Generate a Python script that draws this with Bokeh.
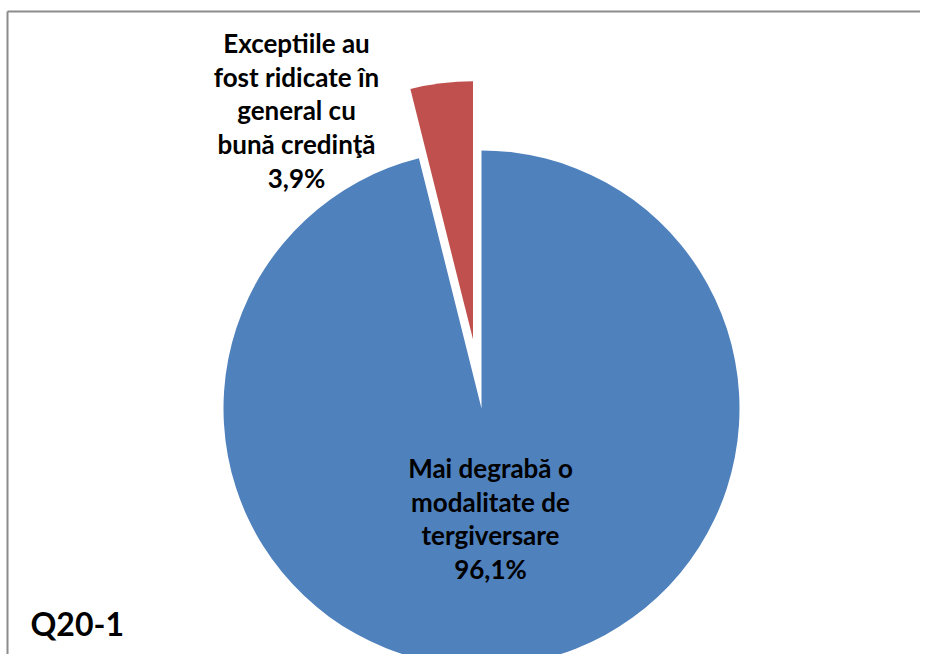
import math
from bokeh.plotting import figure
from bokeh.models import Range1d, ColumnDataSource
from bokeh.core.properties import value
from bokeh.embed import file_html
from bokeh.resources import INLINE

# data
categories = ["Mai degrabă o\nmodalitate de\ntergiversare", "Exceptiile au\nfost ridicate în\ngeneral cu\nbună credinţă"]
values = [96.1, 3.9]
value_labels = ["96,1%", "3,9%"]
colors = ["#4F81BD", "#C0504D"]
explode = [0.0, 0.27]
title_text = "Q20-1"

W, H = 920, 654
p = figure(width=W, height=H, output_backend="svg", toolbar_location=None,
           x_range=Range1d(0, W), y_range=Range1d(0, H), min_border=0,
           background_fill_color="white", border_fill_color="white")
p.axis.visible = False
p.grid.visible = False
p.outline_line_color = None

# chart-area border (top and left edges only; the rest is cut off)
bx, by = 7, 643
p.segment(x0=[bx, bx], y0=[by, by], x1=[W + 20, bx], y1=[by, -20],
          line_color="#8c8c8c", line_width=2)

cx, cy, r = 481, 246, 258
total = sum(values)
a = math.pi / 2
xs, ys, starts, ends = [], [], [], []
for v, ex in zip(values, explode):
    span = 2 * math.pi * v / total
    s, e = a - span, a
    mid = (s + e) / 2
    xs.append(cx + ex * r * math.cos(mid))
    ys.append(cy + ex * r * math.sin(mid))
    starts.append(s)
    ends.append(e)
    a = s

src = ColumnDataSource(dict(x=xs, y=ys, start=starts, end=ends, color=colors))
p.wedge(x="x", y="y", radius=r, start_angle="start", end_angle="end",
        fill_color="color", line_color=None, source=src)

label_pos = [(490, 136), (296, 544)]
texts = [c + "\n" + vl for c, vl in zip(categories, value_labels)]
p.text(x=[lp[0] for lp in label_pos], y=[lp[1] for lp in label_pos], text=texts,
       text_font=value("Lato"), text_font_style="bold", text_font_size="26px",
       text_align="center", text_baseline="middle", text_line_height=1.05,
       text_color="black")

p.text(x=[30], y=[31], text=[title_text], text_font=value("Lato"),
       text_font_style="bold", text_font_size="32px", text_align="left",
       text_baseline="middle", text_color="black")

open("out.html", "w").write(file_html(p, INLINE))
